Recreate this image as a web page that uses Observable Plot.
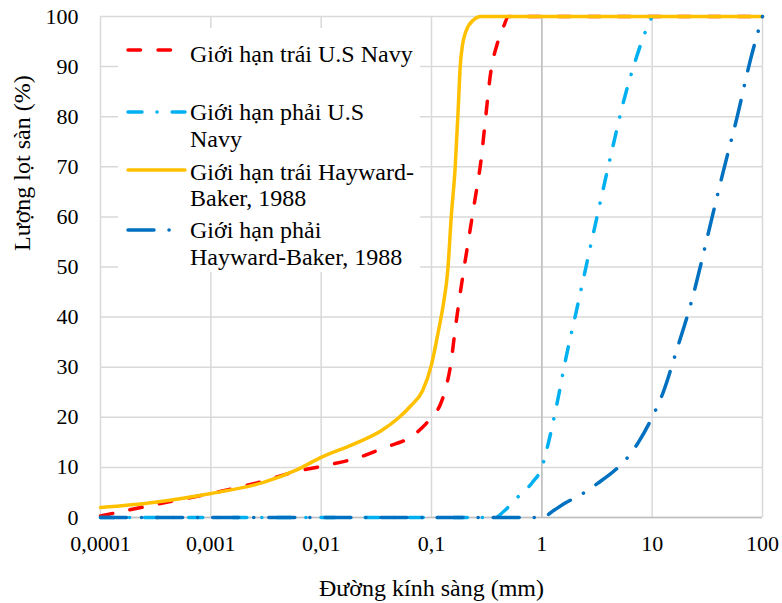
<!DOCTYPE html>
<html><head><meta charset="utf-8">
<script src="https://cdn.jsdelivr.net/npm/d3@7"></script>
<script src="https://cdn.jsdelivr.net/npm/@observablehq/plot@0.6"></script>
<style>
body{margin:0;background:#fff}
#wrap{position:relative;width:782px;height:603px}
#legend{position:absolute;left:0;top:0;pointer-events:none}
#wrap svg, #wrap svg text{font-family:"Liberation Serif","Times New Roman",Tinos,"DejaVu Serif",serif !important}
</style>
</head><body><div id="wrap"></div>
<script>
// Tick values
const xTicks = [0.0001, 0.001, 0.01, 0.1, 1, 10, 100];
const yTicks = [0, 10, 20, 30, 40, 50, 60, 70, 80, 90, 100];
const xLabel = "Đường kính sàng (mm)";
const yLabel = "Lượng lọt sàn (%)";

// Series: Giới hạn trái U.S Navy
const navyLeftD = [0.0001,0.0003,0.001,0.0025,0.006,0.01,0.022,0.036,0.068,0.083,0.1,0.12,0.139,0.148,0.165,0.18,0.215,0.25,0.28,0.31,0.34,0.4,0.45,0.5,100];
const navyLeftP = [0.3,2.5,4.8,6.8,9.2,10.2,12,13.8,16.4,18,20,22.5,27,30,38,44,55,64,71,80,88,95,98,100,100];
// Giới hạn phải U.S Navy
const navyRightD = [0.0001,0.38,0.45,0.6,0.82,1,1.15,1.38,1.66,2,2.95,4.4,5.5,7,9.5,10];
const navyRightP = [0,0,1.2,4,7,10,15,23,32,40,57,74,83,91,99,100];
// Giới hạn trái Hayward-Baker, 1988
const hbLeftD = [0.0001,0.0003,0.001,0.003,0.006,0.01,0.02,0.035,0.051,0.065,0.083,0.1,0.115,0.129,0.14,0.151,0.164,0.175,0.182,0.19,0.205,0.24,0.28,100];
const hbLeftP = [2,3,4.8,7,9.5,12,14.7,17.3,20,22.3,25.3,30.5,37,43,49,60,70,82,90,94,97,99.3,100,100];
// Giới hạn phải Hayward-Baker, 1988
const hbRightD = [0.0001,1,1.3,1.6,2.2,3.2,4.8,6,7.5,10,12.6,17,22,35,44,59,77,100];
const hbRightP = [0,0,1.5,2.8,4.4,6.8,9.8,12,15,20,25,34,42,60,69,80,91,100];

const seriesNames = ["Giới hạn trái U.S Navy","Giới hạn phải U.S Navy","Giới hạn trái Hayward-Baker, 1988","Giới hạn phải Hayward-Baker, 1988"];
const legendLines = [["Giới hạn trái U.S Navy"],["Giới hạn phải U.S","Navy"],["Giới hạn trái Hayward-","Baker, 1988"],["Giới hạn phải","Hayward-Baker, 1988"]];
const colors = ["#ff0000","#00b0f0","#ffc000","#0070c0"];
const dashes = ["12.5,17.5","14,15,0.1,15",null,"26,15,0.1,15"];

const toRows = (D, P) => D.map((d, i) => ({d, p: P[i]}));
const rows = [toRows(navyLeftD, navyLeftP), toRows(navyRightD, navyRightP), toRows(hbLeftD, hbLeftP), toRows(hbRightD, hbRightP)];

const fmt = d => String(d).replace(".", ",");

const lineMarks = rows.map((r, i) => Plot.line(r, {
  x: "d", y: "p", stroke: colors[i], strokeWidth: 3.5,
  strokeDasharray: dashes[i] || undefined, strokeLinecap: "round", strokeLinejoin: "round",
  curve: "monotone-x"
}));

const chart = Plot.plot({
  width: 782, height: 603,
  marginLeft: 100, marginRight: 20, marginTop: 16, marginBottom: 86,
  style: {fontSize: "22px", color: "#000", background: "#fff"},
  x: {type: "log", domain: [0.0001, 100]},
  y: {domain: [0, 100]},
  marks: [
    Plot.gridX(xTicks, {stroke: "#d9d9d9", strokeOpacity: 1, strokeWidth: 1.5}),
    Plot.gridY(yTicks, {stroke: "#d9d9d9", strokeOpacity: 1, strokeWidth: 1.5}),
    Plot.ruleX([1], {stroke: "#bfbfbf", strokeWidth: 1.5}),
    Plot.ruleY([0], {stroke: "#bfbfbf", strokeWidth: 1.5}),
    ...lineMarks,
    Plot.axisX(xTicks, {tickFormat: fmt, tickSize: 0, tickPadding: 18, fontSize: 22, label: null}),
    Plot.axisY(yTicks, {tickSize: 0, tickPadding: 22, fontSize: 22, label: null}),
    Plot.text([xLabel], {frameAnchor: "bottom", dy: 71, fontSize: 24, lineAnchor: "middle"}),
    Plot.text([yLabel], {frameAnchor: "left", dx: -78, dy: -16, rotate: -90, fontSize: 24, lineAnchor: "middle"})
  ]
});
const wrap = document.getElementById("wrap");
wrap.appendChild(chart);

// Legend overlay
const lg = d3.select(wrap).append("svg").attr("id", "legend").attr("width", 782).attr("height", 603)
  .style("font-size", "24px");
lg.append("rect").attr("x", 118).attr("y", 28).attr("width", 302).attr("height", 244).attr("fill", "#fff");
const sampleY = [50, 112, 170, 230];
const baseY = [[62], [120, 147], [180, 206], [238, 265]];
const sampleEnd = [172, 185, 185, 177];
legendLines.forEach((lines, i) => {
  lg.append("line").attr("x1", 128).attr("x2", sampleEnd[i]).attr("y1", sampleY[i]).attr("y2", sampleY[i])
    .attr("stroke", colors[i]).attr("stroke-width", 3.5).attr("stroke-linecap", "round")
    .attr("stroke-dasharray", dashes[i]);
  lines.forEach((t, j) => {
    lg.append("text").attr("x", 190).attr("y", baseY[i][j]).attr("fill", "#000").text(t);
  });
});
</script>
</body></html>
